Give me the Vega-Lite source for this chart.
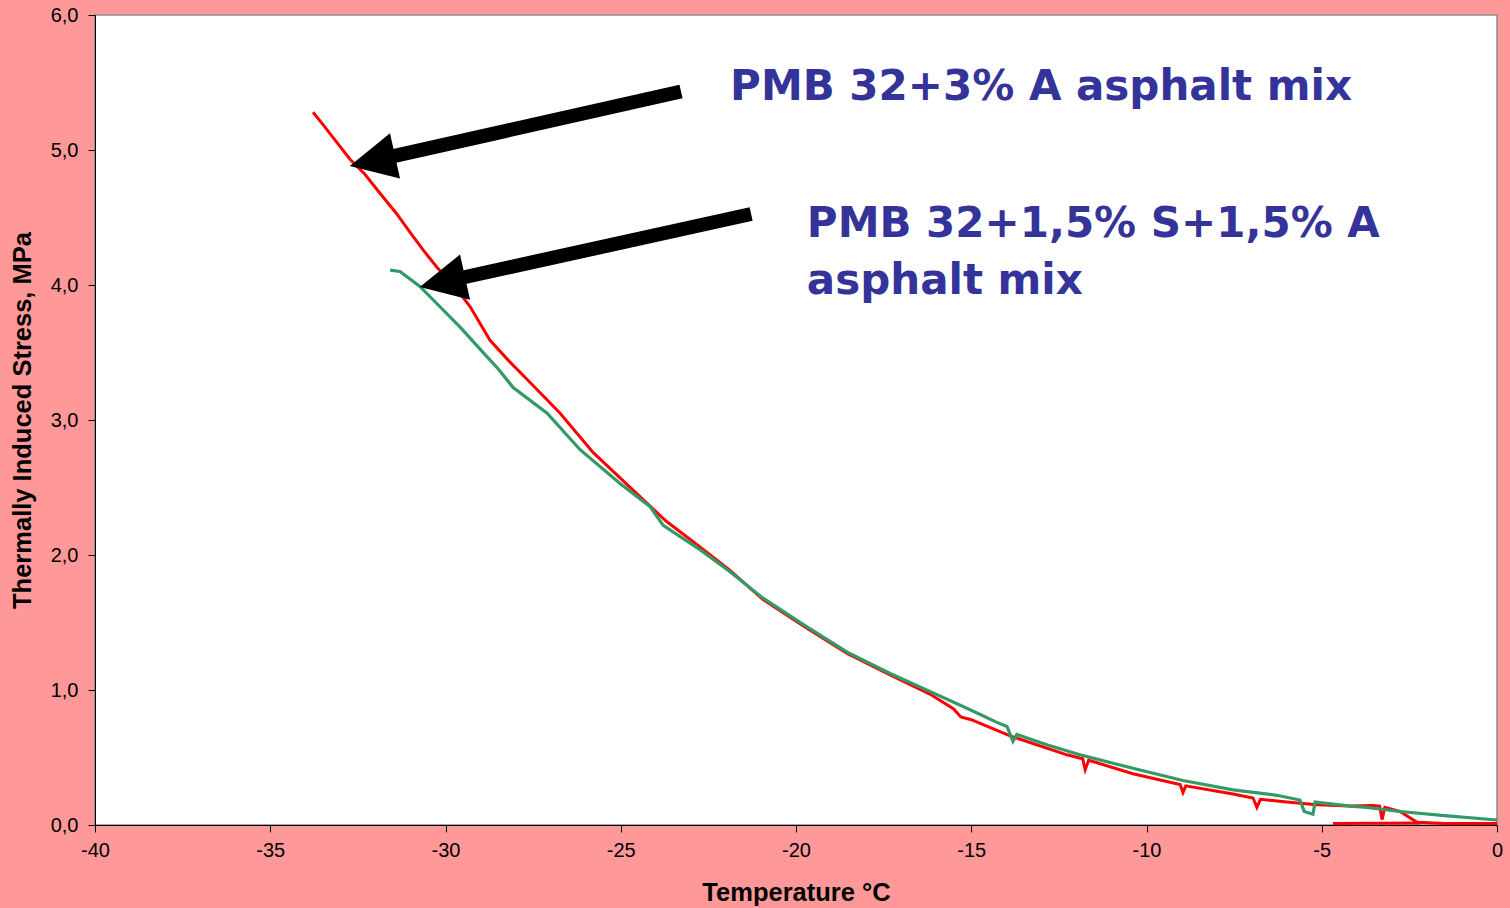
{
  "$schema": "https://vega.github.io/schema/vega-lite/v6.json",
  "width": 1402,
  "height": 810,
  "autosize": {"type": "none"},
  "padding": {"left": 95, "top": 15, "right": 13, "bottom": 83},
  "background": "#FF9999",
  "config": {
    "view": {"stroke": "#8c8c8c", "fill": "white", "strokeWidth": 1.5},
    "axis": {
      "grid": false,
      "domainColor": "black",
      "tickColor": "black",
      "labelColor": "black",
      "titleColor": "black",
      "labelFont": "Liberation Sans",
      "titleFont": "Liberation Sans",
      "labelFontSize": 20,
      "titleFontSize": 25.5,
      "titleFontWeight": "bold",
      "tickSize": 7,
      "labelFlush": false,
      "labelOverlap": false
    }
  },
  "datasets": {
    "curves": [
      {"s": "red", "seg": 1, "t": -33.78, "stress": 5.28},
      {"s": "red", "seg": 1, "t": -33.5, "stress": 5.19},
      {"s": "red", "seg": 1, "t": -33.2, "stress": 5.09},
      {"s": "red", "seg": 1, "t": -32.72, "stress": 4.93},
      {"s": "red", "seg": 1, "t": -32.3, "stress": 4.82},
      {"s": "red", "seg": 1, "t": -31.87, "stress": 4.68},
      {"s": "red", "seg": 1, "t": -31.4, "stress": 4.53},
      {"s": "red", "seg": 1, "t": -31.01, "stress": 4.39},
      {"s": "red", "seg": 1, "t": -30.64, "stress": 4.26},
      {"s": "red", "seg": 1, "t": -30.24, "stress": 4.13},
      {"s": "red", "seg": 1, "t": -29.77, "stress": 4.00},
      {"s": "red", "seg": 1, "t": -29.30, "stress": 3.84},
      {"s": "red", "seg": 1, "t": -28.73, "stress": 3.59},
      {"s": "red", "seg": 1, "t": -28.2, "stress": 3.44},
      {"s": "red", "seg": 1, "t": -27.67, "stress": 3.30},
      {"s": "red", "seg": 1, "t": -26.73, "stress": 3.05},
      {"s": "red", "seg": 1, "t": -25.79, "stress": 2.76},
      {"s": "red", "seg": 1, "t": -24.65, "stress": 2.48},
      {"s": "red", "seg": 1, "t": -23.7, "stress": 2.25},
      {"s": "red", "seg": 1, "t": -22.74, "stress": 2.06},
      {"s": "red", "seg": 1, "t": -21.9, "stress": 1.89},
      {"s": "red", "seg": 1, "t": -20.94, "stress": 1.67},
      {"s": "red", "seg": 1, "t": -19.7, "stress": 1.46},
      {"s": "red", "seg": 1, "t": -18.54, "stress": 1.27},
      {"s": "red", "seg": 1, "t": -17.3, "stress": 1.11},
      {"s": "red", "seg": 1, "t": -16.18, "stress": 0.97},
      {"s": "red", "seg": 1, "t": -15.5, "stress": 0.86},
      {"s": "red", "seg": 1, "t": -15.3, "stress": 0.80},
      {"s": "red", "seg": 1, "t": -15.0, "stress": 0.78},
      {"s": "red", "seg": 1, "t": -13.89, "stress": 0.66},
      {"s": "red", "seg": 1, "t": -12.27, "stress": 0.52},
      {"s": "red", "seg": 1, "t": -11.82, "stress": 0.49},
      {"s": "red", "seg": 1, "t": -11.75, "stress": 0.41},
      {"s": "red", "seg": 1, "t": -11.65, "stress": 0.48},
      {"s": "red", "seg": 1, "t": -10.39, "stress": 0.38},
      {"s": "red", "seg": 1, "t": -9.04, "stress": 0.30},
      {"s": "red", "seg": 1, "t": -8.96, "stress": 0.24},
      {"s": "red", "seg": 1, "t": -8.88, "stress": 0.29},
      {"s": "red", "seg": 1, "t": -7.53, "stress": 0.23},
      {"s": "red", "seg": 1, "t": -6.96, "stress": 0.20},
      {"s": "red", "seg": 1, "t": -6.85, "stress": 0.13},
      {"s": "red", "seg": 1, "t": -6.75, "stress": 0.19},
      {"s": "red", "seg": 1, "t": -6.0, "stress": 0.17},
      {"s": "red", "seg": 1, "t": -5.14, "stress": 0.15},
      {"s": "red", "seg": 1, "t": -4.2, "stress": 0.14},
      {"s": "red", "seg": 1, "t": -3.54, "stress": 0.145},
      {"s": "red", "seg": 1, "t": -3.35, "stress": 0.14},
      {"s": "red", "seg": 1, "t": -3.28, "stress": 0.04},
      {"s": "red", "seg": 1, "t": -3.2, "stress": 0.13},
      {"s": "red", "seg": 1, "t": -2.77, "stress": 0.10},
      {"s": "red", "seg": 1, "t": -2.28, "stress": 0.02},
      {"s": "red", "seg": 1, "t": -1.5, "stress": 0.012},
      {"s": "red", "seg": 1, "t": 0, "stress": 0.012},
      {"s": "red", "seg": 2, "t": -4.68, "stress": 0.012},
      {"s": "red", "seg": 2, "t": -2.2, "stress": 0.014},
      {"s": "green", "seg": 1, "t": -31.58, "stress": 4.11},
      {"s": "green", "seg": 1, "t": -31.3, "stress": 4.10},
      {"s": "green", "seg": 1, "t": -30.73, "stress": 3.99},
      {"s": "green", "seg": 1, "t": -30.2, "stress": 3.85},
      {"s": "green", "seg": 1, "t": -29.59, "stress": 3.69},
      {"s": "green", "seg": 1, "t": -28.82, "stress": 3.47},
      {"s": "green", "seg": 1, "t": -28.5, "stress": 3.38},
      {"s": "green", "seg": 1, "t": -28.07, "stress": 3.24},
      {"s": "green", "seg": 1, "t": -27.10, "stress": 3.05},
      {"s": "green", "seg": 1, "t": -26.16, "stress": 2.78},
      {"s": "green", "seg": 1, "t": -25.02, "stress": 2.53},
      {"s": "green", "seg": 1, "t": -24.17, "stress": 2.36},
      {"s": "green", "seg": 1, "t": -23.79, "stress": 2.22},
      {"s": "green", "seg": 1, "t": -22.74, "stress": 2.04},
      {"s": "green", "seg": 1, "t": -21.9, "stress": 1.88},
      {"s": "green", "seg": 1, "t": -20.94, "stress": 1.68},
      {"s": "green", "seg": 1, "t": -19.7, "stress": 1.47},
      {"s": "green", "seg": 1, "t": -18.54, "stress": 1.28},
      {"s": "green", "seg": 1, "t": -17.3, "stress": 1.12},
      {"s": "green", "seg": 1, "t": -16.18, "stress": 0.99},
      {"s": "green", "seg": 1, "t": -15.0, "stress": 0.85},
      {"s": "green", "seg": 1, "t": -14.27, "stress": 0.76},
      {"s": "green", "seg": 1, "t": -13.98, "stress": 0.73},
      {"s": "green", "seg": 1, "t": -13.81, "stress": 0.62},
      {"s": "green", "seg": 1, "t": -13.70, "stress": 0.67},
      {"s": "green", "seg": 1, "t": -12.8, "stress": 0.59},
      {"s": "green", "seg": 1, "t": -11.90, "stress": 0.52},
      {"s": "green", "seg": 1, "t": -10.39, "stress": 0.42},
      {"s": "green", "seg": 1, "t": -8.96, "stress": 0.33},
      {"s": "green", "seg": 1, "t": -7.53, "stress": 0.26},
      {"s": "green", "seg": 1, "t": -6.28, "stress": 0.22},
      {"s": "green", "seg": 1, "t": -5.62, "stress": 0.185},
      {"s": "green", "seg": 1, "t": -5.50, "stress": 0.10},
      {"s": "green", "seg": 1, "t": -5.25, "stress": 0.08},
      {"s": "green", "seg": 1, "t": -5.19, "stress": 0.17},
      {"s": "green", "seg": 1, "t": -4.19, "stress": 0.14},
      {"s": "green", "seg": 1, "t": -3.71, "stress": 0.13},
      {"s": "green", "seg": 1, "t": -2.77, "stress": 0.10},
      {"s": "green", "seg": 1, "t": -1.5, "stress": 0.07},
      {"s": "green", "seg": 1, "t": 0, "stress": 0.037}
    ],
    "arrows": [
      {"tx": -23.28, "ty": 5.433, "hx": -32.086, "hy": 4.919},
      {"tx": -21.28, "ty": 4.526, "hx": -30.088, "hy": 4.022}
    ],
    "labels": [
      {"lx": -21.88, "ly": 5.37, "txt": "PMB 32+3% A asphalt mix"},
      {"lx": -19.69, "ly": 4.356, "txt": "PMB 32+1,5% S+1,5% A"},
      {"lx": -19.69, "ly": 3.93, "txt": "asphalt mix"}
    ]
  },
  "layer": [
    {
      "data": {"name": "curves"},
      "transform": [{"filter": "datum.s === 'red'"}],
      "mark": {"type": "line", "color": "#FF0000", "strokeWidth": 3, "clip": true},
      "encoding": {
        "x": {
          "field": "t", "type": "quantitative",
          "scale": {"domain": [-40, 0], "nice": false, "zero": false},
          "axis": {
            "title": "Temperature °C",
            "values": [-40, -35, -30, -25, -20, -15, -10, -5, 0],
            "labelExpr": "toString(datum.value)",
            "labelPadding": 8,
            "titleBaseline": "alphabetic",
            "titleY": 75
          }
        },
        "y": {
          "field": "stress", "type": "quantitative",
          "scale": {"domain": [0, 6], "nice": false},
          "axis": {
            "title": "Thermally Induced Stress, MPa",
            "values": [0, 1, 2, 3, 4, 5, 6],
            "labelExpr": "replace(format(datum.value, '.1f'), '.', ',')",
            "labelPadding": 10,
            "titleBaseline": "middle",
            "titleX": -73
          }
        },
        "detail": {"field": "seg", "type": "nominal"}
      }
    },
    {
      "data": {"name": "curves"},
      "transform": [{"filter": "datum.s === 'green'"}],
      "mark": {"type": "line", "color": "#339966", "strokeWidth": 3.2, "clip": true},
      "encoding": {
        "x": {"field": "t", "type": "quantitative"},
        "y": {"field": "stress", "type": "quantitative"}
      }
    },
    {
      "data": {"name": "arrows"},
      "mark": {"type": "rule", "color": "black", "strokeWidth": 14, "strokeCap": "butt"},
      "encoding": {
        "x": {"field": "tx", "type": "quantitative"},
        "y": {"field": "ty", "type": "quantitative"},
        "x2": {"field": "hx"},
        "y2": {"field": "hy"}
      }
    },
    {
      "data": {"name": "arrows"},
      "mark": {"type": "point", "shape": "M0,-1L-1,1L1,1Z", "filled": true, "color": "black", "opacity": 1, "size": 2150, "angle": 257.5, "strokeWidth": 0},
      "encoding": {
        "x": {"field": "hx", "type": "quantitative"},
        "y": {"field": "hy", "type": "quantitative"}
      }
    },
    {
      "data": {"name": "labels"},
      "mark": {"type": "text", "align": "left", "baseline": "alphabetic", "font": "DejaVu Sans", "fontWeight": "bold", "fontSize": 42, "color": "#333399"},
      "encoding": {
        "x": {"field": "lx", "type": "quantitative"},
        "y": {"field": "ly", "type": "quantitative"},
        "text": {"field": "txt", "type": "nominal"}
      }
    }
  ]
}
